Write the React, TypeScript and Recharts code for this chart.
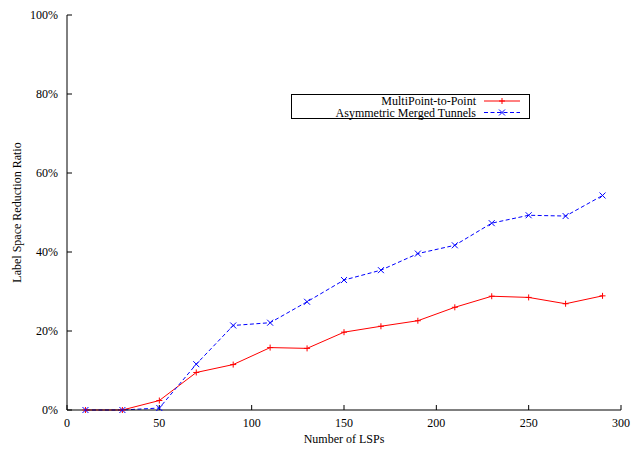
import React from 'react';
import { LineChart, Line, XAxis, YAxis, Legend } from 'recharts';

const lsps = [10, 30, 50, 70, 90, 110, 130, 150, 170, 190, 210, 230, 250, 270, 290];
const multiPoint = [0, 0, 2.4, 9.5, 11.5, 15.8, 15.6, 19.7, 21.2, 22.6, 26.0, 28.8, 28.5, 26.9, 28.9];
const asymmetric = [0, 0, 0.5, 11.6, 21.4, 22.1, 27.4, 32.9, 35.4, 39.6, 41.7, 47.3, 49.3, 49.1, 54.3];
const xTicks = [0, 50, 100, 150, 200, 250, 300];
const yTicks = [0, 20, 40, 60, 80, 100];
const seriesNames = ['MultiPoint-to-Point', 'Asymmetric Merged Tunnels'];

const data = lsps.map((x, i) => ({ x, mp: multiPoint[i], amt: asymmetric[i] }));

const FONT = 'Liberation Serif, Times New Roman, serif';
const RED = '#ff0000';
const BLUE = '#0000ff';

const PlusDot = (props: any) => {
  const { cx, cy, index } = props;
  if (cx == null || cy == null) return <g key={`p${index}`} />;
  return (
    <g key={`p${index}`}>
      <line x1={cx - 3} y1={cy} x2={cx + 3} y2={cy} stroke={RED} strokeWidth={1} />
      <line x1={cx} y1={cy - 3} x2={cx} y2={cy + 3} stroke={RED} strokeWidth={1} />
    </g>
  );
};

const CrossDot = (props: any) => {
  const { cx, cy, index } = props;
  if (cx == null || cy == null) return <g key={`c${index}`} />;
  return (
    <g key={`c${index}`}>
      <line x1={cx - 3} y1={cy - 3} x2={cx + 3} y2={cy + 3} stroke={BLUE} strokeWidth={1} />
      <line x1={cx - 3} y1={cy + 3} x2={cx + 3} y2={cy - 3} stroke={BLUE} strokeWidth={1} />
    </g>
  );
};

const LegendBox = () => (
  <svg width={240} height={26} style={{ display: 'block' }}>
    <rect x={0.5} y={0.5} width={238} height={24} fill="#fff" stroke="#000" strokeWidth={1} />
    <text x={185} y={10.5} textAnchor="end" fontFamily={FONT} fontSize={12} fill="#000">{seriesNames[0]}</text>
    <line x1={193} y1={7} x2={229} y2={7} stroke={RED} strokeWidth={1} />
    <line x1={208} y1={7} x2={214} y2={7} stroke={RED} />
    <line x1={211} y1={4} x2={211} y2={10} stroke={RED} />
    <text x={185} y={22.5} textAnchor="end" fontFamily={FONT} fontSize={12} fill="#000">{seriesNames[1]}</text>
    <line x1={193} y1={18.5} x2={229} y2={18.5} stroke={BLUE} strokeWidth={1} strokeDasharray="4 2.5" />
    <line x1={208} y1={15.5} x2={214} y2={21.5} stroke={BLUE} />
    <line x1={208} y1={21.5} x2={214} y2={15.5} stroke={BLUE} />
  </svg>
);

const emptyTick = () => <g />;

export default function App() {
  const tickStyle = { fontFamily: FONT, fontSize: 12, fill: '#000' };
  return (
    <div style={{ position: 'absolute', left: 0, top: 0, background: '#fff' }}>
      <LineChart width={631} height={451} data={data} margin={{ top: 15, right: 10, bottom: 0, left: 0 }}>
        <XAxis
          dataKey="x"
          type="number"
          domain={[0, 300]}
          ticks={xTicks}
          height={41}
          tickSize={-5}
          tickMargin={13}
          tick={tickStyle}
          axisLine={{ stroke: '#000' }}
          tickLine={{ stroke: '#000' }}
          label={{ value: 'Number of LSPs', position: 'insideBottom', offset: 8, style: { fontFamily: FONT, fontSize: 12, fill: '#000' } }}
        />
        <XAxis
          xAxisId="top"
          orientation="top"
          type="number"
          domain={[0, 300]}
          ticks={xTicks}
          height={0}
          tickSize={-5}
          tick={emptyTick}
          axisLine={{ stroke: '#000' }}
          tickLine={{ stroke: '#000' }}
        />
        <YAxis
          type="number"
          domain={[0, 100]}
          ticks={yTicks}
          width={67}
          tickSize={-5}
          tickMargin={14}
          tick={tickStyle}
          tickFormatter={(v: number) => `${v}%`}
          axisLine={{ stroke: '#000' }}
          tickLine={{ stroke: '#000' }}
          label={{
            content: (p: any) => {
              const vb = p.viewBox || {};
              const cx = (vb.x || 0) + 17;
              const cy = (vb.y || 0) + (vb.height || 0) / 2;
              return (
                <text x={cx} y={cy} transform={`rotate(-90, ${cx}, ${cy})`} textAnchor="middle" dominantBaseline="central" fontFamily={FONT} fontSize={12} fill="#000">
                  Label Space Reduction Ratio
                </text>
              );
            },
          }}
        />
        <YAxis
          yAxisId="right"
          orientation="right"
          type="number"
          domain={[0, 100]}
          ticks={yTicks}
          width={0}
          tickSize={-5}
          tick={emptyTick}
          axisLine={{ stroke: '#000' }}
          tickLine={{ stroke: '#000' }}
        />
        <Legend
          verticalAlign="middle"
          align="center"
          content={() => <LegendBox />}
          wrapperStyle={{ position: 'absolute', left: 291, top: 94, width: 240, height: 26 }}
        />
        <Line
          type="linear"
          dataKey="mp"
          name={seriesNames[0]}
          stroke={RED}
          strokeWidth={1}
          dot={PlusDot}
          activeDot={false}
          isAnimationActive={false}
        />
        <Line
          type="linear"
          dataKey="amt"
          name={seriesNames[1]}
          stroke={BLUE}
          strokeWidth={1}
          strokeDasharray="4 2.5"
          dot={CrossDot}
          activeDot={false}
          isAnimationActive={false}
        />
      </LineChart>
    </div>
  );
}
